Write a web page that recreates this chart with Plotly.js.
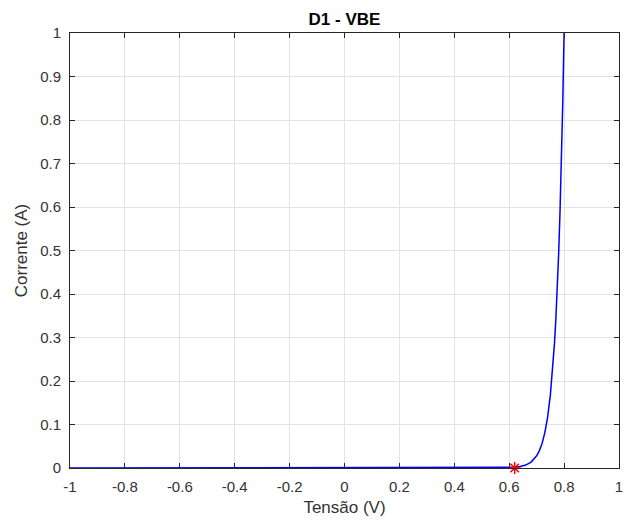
<!DOCTYPE html>
<html>
<head>
<meta charset="utf-8">
<script src="https://cdn.plot.ly/plotly-3.0.1.min.js"></script>
<style>
html,body{margin:0;padding:0;background:#fff;}
#chart{width:633px;height:523px;}
</style>
</head>
<body>
<div id="chart"></div>
<script>
// Diode curve
var tensao = [-1, -0.8, -0.6, -0.4, -0.2, 0, 0.2, 0.4, 0.5, 0.55, 0.6, 0.62, 0.64, 0.66, 0.68, 0.69, 0.70, 0.71, 0.72, 0.73, 0.74, 0.75, 0.76, 0.765, 0.77, 0.775, 0.78, 0.785, 0.79, 0.795, 0.80, 0.802];
var corrente = [0, 0, 0, 0, 0, 0, 0, 0, 0.0002, 0.0005, 0.0008, 0.0016, 0.0033, 0.0067, 0.0137, 0.020, 0.028, 0.040, 0.057, 0.082, 0.117, 0.168, 0.240, 0.287, 0.343, 0.410, 0.490, 0.586, 0.700, 0.837, 1.0, 1.07];
var pontoV = [0.62];
var pontoI = [0];
var xTicks = [-1, -0.8, -0.6, -0.4, -0.2, 0, 0.2, 0.4, 0.6, 0.8, 1];
var xTickText = ["-1", "-0.8", "-0.6", "-0.4", "-0.2", "0", "0.2", "0.4", "0.6", "0.8", "1"];
var yTicks = [0, 0.1, 0.2, 0.3, 0.4, 0.5, 0.6, 0.7, 0.8, 0.9, 1];
var yTickText = ["0", "0.1", "0.2", "0.3", "0.4", "0.5", "0.6", "0.7", "0.8", "0.9", "1"];

var FONT = 'Liberation Sans, Arial, sans-serif';

var traces = [
  {x: tensao, y: corrente, type: 'scatter', mode: 'lines',
   line: {color: '#0000ff', width: 1.5}, hoverinfo: 'skip'},
  {x: pontoV, y: pontoI, type: 'scatter', mode: 'markers',
   marker: {symbol: 'asterisk-open', size: 10, color: '#ff0000', line: {color: '#ff0000', width: 1.5}},
   cliponaxis: false}
];

var axisCommon = {
  showline: true, linecolor: '#262626', linewidth: 1, mirror: 'ticks',
  ticks: 'inside', ticklen: 5, tickcolor: '#262626', tickwidth: 1,
  showgrid: true, gridcolor: '#e3e3e3', gridwidth: 1,
  zeroline: false, automargin: false,
  tickfont: {family: FONT, size: 15, color: '#333333'}
};

var layout = {
  width: 633, height: 523,
  paper_bgcolor: '#ffffff', plot_bgcolor: '#ffffff',
  showlegend: false,
  margin: {l: 70, r: 14, t: 33, b: 55},
  title: {text: '<b>D1 - VBE</b>', xref: 'paper', x: 0.5, xanchor: 'center',
          yref: 'container', y: 1 - 19 / 523, yanchor: 'middle',
          font: {family: FONT, size: 17, color: '#000000'}},
  xaxis: Object.assign({}, axisCommon, {
    range: [-1, 1], tickmode: 'array', tickvals: xTicks, ticktext: xTickText,
    ticklabelstandoff: 5,
    title: {text: 'Tensão (V)', standoff: 7,
            font: {family: FONT, size: 17, color: '#333333'}}
  }),
  yaxis: Object.assign({}, axisCommon, {
    range: [0, 1], tickmode: 'array', tickvals: yTicks, ticktext: yTickText,
    ticklabelstandoff: 5,
    title: {text: 'Corrente (A)', standoff: 8,
            font: {family: FONT, size: 17, color: '#333333'}}
  })
};

Plotly.newPlot('chart', traces, layout, {staticPlot: true, displayModeBar: false});
</script>
</body>
</html>
